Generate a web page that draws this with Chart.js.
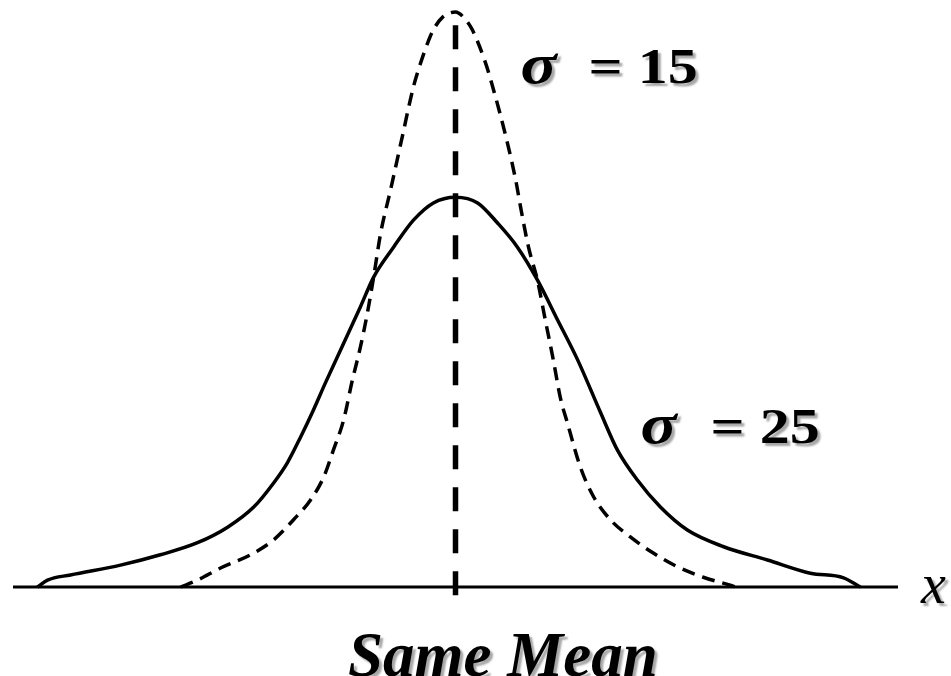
<!DOCTYPE html>
<html lang="en">
<head>
  <meta charset="UTF-8">
  <title>Same Mean, different spread</title>
  <script src="https://cdn.jsdelivr.net/npm/chart.js"></script>
  <style>
    body {
      margin: 0;
      background-color: #ffffff;
    }
    canvas {
      display: block;
    }
  </style>
</head>
<body>
  <canvas id="curves" width="951" height="676"></canvas>

  <script>
    // Curve: x is offset from the mean, y is height (tall peak = 100)
    const wideX = [-94.5, -92.2, -87.0, -75.7, -66.7, -58.3, -51.5, -45.6, -41.1, -38.0, -35.0, -32.1, -29.4, -21.5, -18.5, -14.0, -9.5, -5.0, 0,
                   5.0, 9.5, 14.0, 18.5, 23.1, 27.6, 32.8, 36.6, 41.1, 46.3, 52.4, 60.6, 70.5, 80.2, 87.7, 91.5];
    const wideY = [0, 1.2, 2.1, 3.8, 5.6, 7.7, 10.4, 13.9, 18.1, 21.6, 26.1, 30.8, 35.5, 48.7, 53.9, 59.1, 63.8, 66.8, 67.8,
                   66.8, 63.3, 59.1, 53.4, 46.4, 39.5, 30.3, 23.8, 18.6, 13.9, 9.9, 7.0, 4.7, 2.4, 1.6, 0];

    const narrowX = [-62.1, -58.3, -53.1, -46.3, -41.1, -36.6, -32.8, -29.8, -27.6, -25.3, -23.3, -21.5, -19.9, -18.5, -16.9, -14.7, -12.2, -9.5, -7.9, -6.3, -5.0, -2.9, 0,
                     1.8, 3.8, 6.8, 8.4, 11.3, 13.6, 14.7, 16.5, 18.5, 20.3, 22.1, 23.7, 25.3, 28.2, 31.2, 35.0, 39.5, 44.7, 50.2, 56.0, 62.1, 63.3];
    const narrowY = [0, 1.2, 3.3, 5.6, 8.2, 11.7, 15.1, 19.1, 23.8, 29.0, 36.0, 41.7, 47.7, 53.9, 61.6, 69.0, 77.7, 87.0, 91.1, 94.6, 96.9, 99.1, 100,
                     99.1, 96.9, 91.1, 87.0, 78.6, 70.8, 66.1, 59.1, 53.4, 46.4, 39.5, 32.9, 28.5, 20.9, 15.7, 11.7, 8.7, 5.9, 3.5, 1.7, 0.3, 0];

    const axisX = [-100, 100];
    const meanX = 0;
    const meanTop = 97.7;
    const meanBottom = -3.5;

    const labels = [
      { sigma: 'σ', rest: '= 15', x: 14.7, y: 87.7, gap: 68 },
      { sigma: 'σ', rest: '= 25', x: 41.8, y: 25.0, gap: 70 }
    ];
    const meanLabel = 'Same Mean';
    const axisLabel = 'x';

    const toPoints = (xs, ys) => xs.map((x, i) => ({ x: x, y: ys[i] }));

    // stretched text, the original face is wider than Liberation Serif
    function wideText(c, txt, px, py, font, stretch) {
      c.save();
      c.translate(px, py);
      c.scale(stretch, 1);
      c.font = font;
      c.fillText(txt, 0, 0);
      c.restore();
    }

    const textPlugin = {
      id: 'textLabels',
      afterDatasetsDraw(chart) {
        const c = chart.ctx;
        const sx = chart.scales.x;
        const sy = chart.scales.y;
        c.save();
        c.fillStyle = '#000';
        c.textBaseline = 'alphabetic';
        c.textAlign = 'left';
        c.shadowColor = 'rgba(0,0,0,0.35)';
        c.shadowOffsetX = 3;
        c.shadowOffsetY = 3;
        c.shadowBlur = 2;

        labels.forEach(l => {
          const px = sx.getPixelForValue(l.x);
          const py = sy.getPixelForValue(l.y);
          wideText(c, l.sigma, px, py, 'italic bold 56px "Liberation Serif"', 1.2);
          wideText(c, l.rest, px + l.gap, py, 'bold 50px "Liberation Serif"', 1.2);
        });

        c.textAlign = 'center';
        c.font = 'italic bold 63px "Liberation Serif"';
        c.fillText(meanLabel, sx.getPixelForValue(10.7), sy.getPixelForValue(-15.5));

        c.textAlign = 'left';
        c.font = 'italic 56px "Liberation Serif"';
        c.fillText(axisLabel, sx.getPixelForValue(105.2), sy.getPixelForValue(-2.8));
        c.restore();
      }
    };

    const ctx = document.getElementById('curves').getContext('2d');
    new Chart(ctx, {
      type: 'line',
      data: {
        datasets: [
          {
            data: axisX.map(x => ({ x: x, y: 0 })),
            borderColor: '#000',
            borderWidth: 3,
            tension: 0
          },
          {
            data: toPoints(wideX, wideY),
            borderColor: '#000',
            borderWidth: 3.5,
            cubicInterpolationMode: 'monotone'
          },
          {
            data: toPoints(narrowX, narrowY),
            borderColor: '#000',
            borderWidth: 3.5,
            borderDash: [13, 8],
            cubicInterpolationMode: 'monotone'
          },
          {
            data: [{ x: meanX, y: meanTop }, { x: meanX, y: meanBottom }],
            borderColor: '#000',
            borderWidth: 5.5,
            borderDash: [24, 18],
            tension: 0
          }
        ]
      },
      options: {
        responsive: false,
        animation: false,
        devicePixelRatio: 1,
        layout: {
          padding: { left: 13, right: 53, top: 12, bottom: 89 }
        },
        elements: {
          point: { radius: 0, hoverRadius: 0 },
          line: { fill: false, borderCapStyle: 'butt' }
        },
        datasets: {
          line: { clip: false }
        },
        plugins: {
          legend: { display: false },
          tooltip: { enabled: false }
        },
        scales: {
          x: { type: 'linear', min: -100, max: 100, display: false },
          y: { min: 0, max: 100, display: false }
        }
      },
      plugins: [textPlugin]
    });
  </script>
</body>
</html>
